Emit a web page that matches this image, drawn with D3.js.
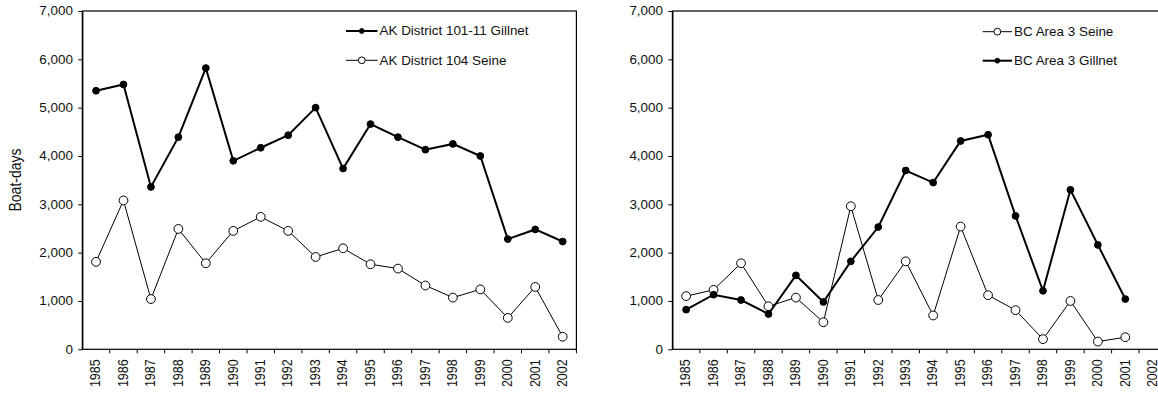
<!DOCTYPE html>
<html>
<head>
<meta charset="utf-8">
<script src="https://cdn.jsdelivr.net/npm/d3@7"></script>
<style>
  html, body { margin: 0; padding: 0; background: #fff; }
  svg { display: block; }
  text { font-family: "Liberation Sans", Arial, sans-serif; fill: #111; }
</style>
</head>
<body>
<svg id="chart" width="1158" height="393"></svg>
<script>
// Fishing effort (boat-days) by year, Alaska vs. British Columbia
const years = ["1985","1986","1987","1988","1989","1990","1991","1992","1993",
               "1994","1995","1996","1997","1998","1999","2000","2001","2002"];
const yTickValues = [0, 1000, 2000, 3000, 4000, 5000, 6000, 7000];

const akGillnet = [5350, 5480, 3360, 4390, 5820, 3900, 4170, 4430, 5000,
                   3740, 4660, 4390, 4130, 4250, 4000, 2280, 2480, 2230];
const akSeine   = [1810, 3080, 1040, 2490, 1780, 2450, 2740, 2450, 1910,
                   2090, 1760, 1670, 1320, 1070, 1240, 650, 1290, 260];
const bcSeine   = [1100, 1230, 1780, 890, 1070, 560, 2960, 1020, 1820,
                   700, 2540, 1120, 810, 210, 1000, 160, 250, null];
const bcGillnet = [820, 1130, 1020, 730, 1530, 980, 1820, 2530, 3700,
                   3450, 4310, 4440, 2760, 1210, 3300, 2160, 1040, null];

const akLabels = ["AK District 101-11 Gillnet", "AK District 104 Seine"];
const bcLabels = ["BC Area 3 Seine", "BC Area 3 Gillnet"];

const svg = d3.select("#chart");
const STRETCH = 1.12;     // glyphs are drawn slightly wide
const plotTop = 11, plotBottom = 349.3;
const bandW = 27.45;

const gill = { width: 2, r: 3.4, fill: "#000", legendR: 2.4 };
const seine = { width: 1, r: 4.4, fill: "#fff", legendR: 3.4 };

function panel(x0, series, legend) {
  const x = d3.scaleBand().domain(years).range([x0, x0 + bandW * years.length]).padding(0);
  const y = d3.scaleLinear().domain([0, 7000]).range([plotBottom, plotTop]);
  const g = svg.append("g");

  // frame
  g.append("rect")
    .attr("x", x.range()[0]).attr("y", y(7000))
    .attr("width", x.range()[1] - x.range()[0]).attr("height", y(0) - y(7000))
    .attr("fill", "none").attr("stroke", "#000").attr("stroke-width", 1.2);

  // y axis
  const ya = g.append("g")
    .attr("transform", `translate(${x0},0)`)
    .call(d3.axisLeft(y).tickValues(yTickValues).tickSize(4).tickSizeOuter(0)
      .tickFormat(d3.format(",")));
  ya.select(".domain").attr("stroke", "#000").attr("stroke-width", 1.2);
  ya.selectAll(".tick line").attr("stroke", "#000");
  ya.selectAll(".tick text")
    .attr("x", -9.4 / STRETCH)
    .attr("transform", `scale(${STRETCH},1)`)
    .style("font-size", "12px").attr("fill", "#111");

  // x ticks at band boundaries
  g.selectAll(".xt").data(years).join("line")
    .attr("x1", d => x(d) + x.bandwidth()).attr("x2", d => x(d) + x.bandwidth())
    .attr("y1", y(0)).attr("y2", y(0) + 4)
    .attr("stroke", "#000").attr("stroke-width", 1);

  // x labels (rotated)
  g.selectAll(".xl").data(years).join("text")
    .attr("transform", d => `translate(${x(d) + x.bandwidth() / 2 + 4.3},${y(0) + 10}) scale(${STRETCH},1) rotate(-90)`)
    .attr("text-anchor", "end")
    .style("font-size", "12.5px")
    .text(d => d);

  // series
  series.forEach(s => {
    const pts = s.values.map((v, i) => ({ year: years[i], v })).filter(p => p.v != null);
    g.append("path")
      .datum(pts)
      .attr("fill", "none").attr("stroke", "#000").attr("stroke-width", s.style.width)
      .attr("stroke-linejoin", "miter")
      .attr("d", d3.line().x(p => x(p.year) + x.bandwidth() / 2).y(p => y(p.v)));
    g.selectAll(null).data(pts).join("circle")
      .attr("cx", p => x(p.year) + x.bandwidth() / 2)
      .attr("cy", p => y(p.v))
      .attr("r", s.style.r)
      .attr("fill", s.style.fill).attr("stroke", "#000").attr("stroke-width", 1);
  });

  // legend
  legend.rows.forEach((row, i) => {
    const ly = legend.y[i];
    const lg = g.append("g");
    lg.append("line")
      .attr("x1", legend.x1).attr("x2", legend.x2).attr("y1", ly).attr("y2", ly)
      .attr("stroke", "#000").attr("stroke-width", row.style.width);
    lg.append("circle")
      .attr("cx", (legend.x1 + legend.x2) / 2).attr("cy", ly)
      .attr("r", row.style.legendR)
      .attr("fill", row.style.fill).attr("stroke", "#000").attr("stroke-width", 1);
    lg.append("text")
      .attr("transform", `translate(${legend.x2 + 2},${ly}) scale(${STRETCH},1)`)
      .attr("dy", "0.35em")
      .style("font-size", "12px")
      .text(row.label);
  });

  return { x, y };
}

// Alaska panel: seine drawn beneath gillnet
panel(82.3,
  [ { values: akSeine, style: seine }, { values: akGillnet, style: gill } ],
  { x1: 346, x2: 377.5, y: [31, 60.3],
    rows: [ { label: akLabels[0], style: gill }, { label: akLabels[1], style: seine } ] });

// British Columbia panel
panel(672.4,
  [ { values: bcSeine, style: seine }, { values: bcGillnet, style: gill } ],
  { x1: 982.7, x2: 1012, y: [31.7, 60.7],
    rows: [ { label: bcLabels[0], style: seine }, { label: bcLabels[1], style: gill } ] });

// shared y-axis title
svg.append("text")
  .attr("transform", `translate(20.5,180) scale(${STRETCH},1) rotate(-90)`)
  .attr("text-anchor", "middle")
  .style("font-size", "14px")
  .text("Boat-days");
</script>
</body>
</html>
